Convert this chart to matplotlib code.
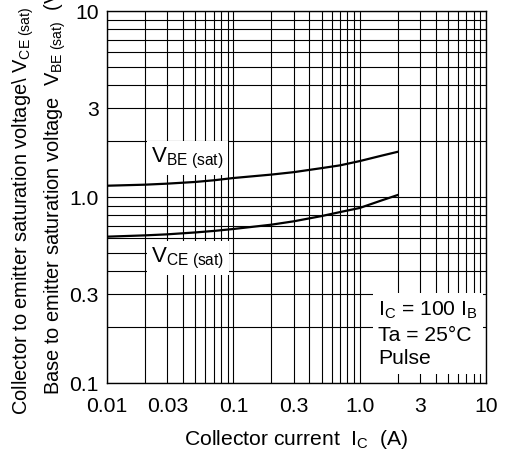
import matplotlib
matplotlib.use("Agg")
import matplotlib.pyplot as plt
import numpy as np

plt.rcParams['font.family'] = ['Liberation Sans', 'DejaVu Sans']
plt.rcParams['mathtext.fontset'] = 'custom'
plt.rcParams['mathtext.rm'] = 'Liberation Sans'
plt.rcParams['mathtext.it'] = 'Liberation Sans'

# data
ic = [0.01, 0.02, 0.03, 0.05, 0.07, 0.1, 0.2, 0.3, 0.5, 0.7, 1.0, 1.5, 2.0]
vbe_sat = [1.15, 1.165, 1.18, 1.205, 1.23, 1.265, 1.32, 1.36, 1.43, 1.48, 1.56, 1.67, 1.75]
vce_sat = [0.612, 0.622, 0.63, 0.645, 0.657, 0.673, 0.71, 0.74, 0.79, 0.83, 0.873, 0.96, 1.025]

xticks = [0.01, 0.03, 0.1, 0.3, 1.0, 3, 10]
xticklabels = ['0.01', '0.03', '0.1', '0.3', '1.0', '3', '10']
yticks = [0.1, 0.3, 1.0, 3, 10]
yticklabels = ['0.1', '0.3', '1.0', '3', '10']

fs = 15.2

fig = plt.figure(figsize=(5.09, 4.57), dpi=100)
ax = fig.add_axes([0.2102, 0.1619, 0.7446, 0.814])

ax.set_xscale('log')
ax.set_yscale('log')
ax.set_xlim(0.01, 10)
ax.set_ylim(0.1, 10)

ax.plot(ic, vbe_sat, color='black', lw=1.6, zorder=3)
ax.plot(ic, vce_sat, color='black', lw=1.6, zorder=3)

ax.set_xticks(xticks)
ax.set_xticklabels(xticklabels)
ax.set_yticks(yticks)
ax.set_yticklabels(yticklabels)
ax.tick_params(which='both', length=0, labelsize=fs)
ax.tick_params(axis='x', pad=10)
ax.tick_params(axis='y', pad=6)
ax.grid(which='both', color='black', lw=0.8)
for s in ax.spines.values():
    s.set_linewidth(1.0)

box = dict(facecolor='white', edgecolor='none', pad=3)
ax.text(0.0223, 1.62, r'V$_{\mathrm{BE\ (sat)}}$', fontsize=16, ha='left', va='center',
        bbox=box, zorder=4)
ax.text(0.0223, 0.47, r'V$_{\mathrm{CE\ (sat)}}$', fontsize=16, ha='left', va='center',
        bbox=box, zorder=4)
ax.text(1.40, 0.183, 'I$_{\\mathrm{C}}$ = 100 I$_{\\mathrm{B}}$\nTa = 25°C\nPulse', fontsize=fs,
        ha='left', va='center', linespacing=1.3,
        bbox=dict(facecolor='white', edgecolor='none', pad=4), zorder=4)

ax.set_xlabel(r'Collector current  I$_{\mathrm{C}}$  (A)', fontsize=fs, labelpad=9)

fig.text(28 / 509, 1 - 415 / 457,
         r'Collector to emitter saturation voltage\ V$_{\mathrm{CE\ (sat)}}$  (V)',
         rotation=90, fontsize=14.4, ha='left', va='baseline', rotation_mode='anchor')
fig.text(60 / 509, 1 - 395 / 457,
         r'Base to emitter saturation voltage  V$_{\mathrm{BE\ (sat)}}$  (V)',
         rotation=90, fontsize=14.4, ha='left', va='baseline', rotation_mode='anchor')

fig.savefig('out.png', dpi=100)
